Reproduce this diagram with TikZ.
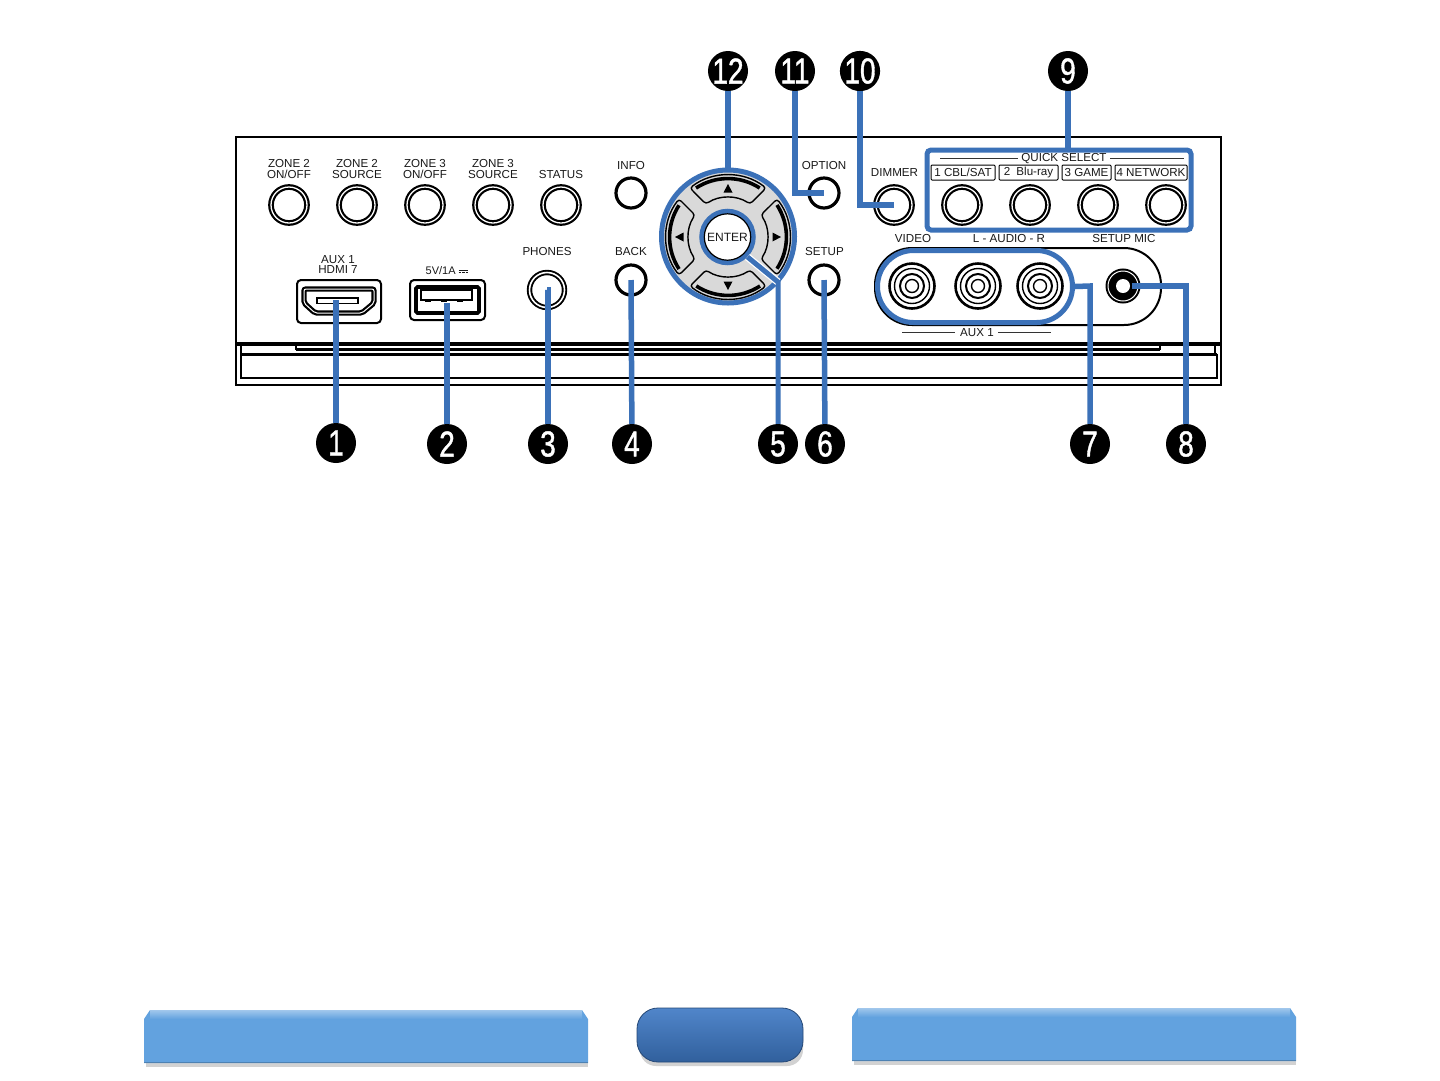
\documentclass[tikz,border=0pt]{standalone}
\usepackage{fontspec}
\setmainfont{Liberation Sans}
\newfontfamily\numfont[FakeBold=1.3]{Liberation Sans}
\usetikzlibrary{shadings}
\definecolor{callout}{HTML}{3B71B8}
\definecolor{padgray}{HTML}{D9D9D9}
\definecolor{barblue}{HTML}{62A2DF}
\definecolor{pillblue}{HTML}{3D78C4}
\newcommand{\dcsym}{\raisebox{3.6pt}{\rlap{\rule{9.6pt}{.7pt}}}\raisebox{1.6pt}{\rule{2.6pt}{.7pt}\hspace{.9pt}\rule{2.6pt}{.7pt}\hspace{.9pt}\rule{2.6pt}{.7pt}}}
\tikzset{
  x=1pt,y=-1pt,
  lab/.style={font=\fontsize{11.6}{10.5}\selectfont,align=center,inner sep=0pt,text=black!90},
  ringb/.style={circle,draw=black,line width=2.2pt,fill=white,minimum size=#1,inner sep=0pt,
     double=white,double distance=1.3pt},
  ringp/.style={circle,draw=black,line width=3.2pt,fill=white,minimum size=#1,inner sep=0pt},
  num/.style={circle,fill=black,text=white,minimum size=40pt,inner sep=0pt,font=\fontsize{36}{36}\numfont},
  conn/.style={draw=callout,line width=5.5pt},
  hl/.style={draw=callout,line width=5pt},
  qbox/.style={draw=black,line width=1pt,rounded corners=1pt,inner sep=0pt,font=\fontsize{11.6}{11.6}\selectfont,text=black!90},
  panel/.style={draw=black,line width=2.8pt},
  shelf/.style={draw=black,line width=3pt}
}
\newcommand{\numtxt}[1]{\raisebox{-1pt}{\scalebox{.78}[1]{#1}}}
\begin{document}
\begin{tikzpicture}
\useasboundingbox (0,0) rectangle (1440,1080);
\fill[white] (0,0) rectangle (1440,1080);
% panel
\draw[panel] (236,137) rectangle (1221,385);
\draw[shelf,line width=3.4pt] (236,344) -- (1221,344);
\draw[shelf] (296,349.5) -- (1160,349.5);
\draw[shelf,line width=1.6pt] (296,344) -- (296,349.5) (1160,344) -- (1160,349.5);
\draw[shelf,line width=2.6pt] (241,354.5) -- (1217,354.5);
\draw[shelf,line width=2.4pt] (241,344) -- (241,378) -- (1217,378) -- (1217,354);
\draw[shelf,line width=1.2pt] (1215,344) -- (1215,354);
% labels
\node[lab] at (289,169) {ZONE 2\\ON/OFF};
\node[lab] at (357,169) {ZONE 2\\SOURCE};
\node[lab] at (425,169) {ZONE 3\\ON/OFF};
\node[lab] at (493,169) {ZONE 3\\SOURCE};
\node[lab] at (561,174.5) {STATUS};
\node[lab] at (631,165) {INFO};
\node[lab] at (631,251.5) {BACK};
\node[lab] at (547,251.5) {PHONES};
\node[lab] at (338,264.5) {AUX 1\\HDMI 7};
\node[lab,font=\fontsize{11}{11}\selectfont] at (447,270.5) {5V/1A \dcsym};
\node[lab] at (824,165) {OPTION};
\node[lab] at (824.5,251.5) {SETUP};
\node[lab] at (894.5,173) {DIMMER};
\node[lab] at (913,238.5) {VIDEO};
\node[lab] at (1009,238.5) {L - AUDIO - R};
\node[lab] at (1124,238.5) {SETUP MIC};
\node[lab] at (1064,158.5) {QUICK SELECT};
\node[lab] at (977,332.5) {AUX 1};
\draw[line width=1pt,black!80] (940,158) -- (1018,158) (1110,158) -- (1184,158);
\draw[line width=1pt,black!80] (902,332) -- (955,332) (998,332) -- (1051,332);
% buttons
\foreach \nm/\xx in {za/289,zb/357,zc/425,zd/493,st/561,qa/962,qb/1030,qc/1098,qd/1166}
  \node[ringb=36pt] (\nm) at (\xx,205) {};
\node[ringb=36pt] (dim) at (894,205) {};
\node[ringp=30pt] (info) at (631,193) {};
\node[ringp=30pt] (back) at (631,280) {};
\node[ringp=30pt] (opt) at (824,193) {};
\node[ringp=30pt] (setup) at (824,280) {};
\node[circle,draw=black,line width=1.9pt,double=white,double distance=1.6pt,fill=white,minimum size=35pt,inner sep=0pt] (ph) at (547,290) {};
% quick select labels
\node[qbox,minimum width=64pt,minimum height=15pt] at (963,172.5) {1 CBL/SAT};
\node[qbox,minimum width=59pt,minimum height=15pt] at (1028.5,172.5) {2\hspace{3pt} Blu-ray};
\node[qbox,minimum width=49pt,minimum height=15pt] at (1086.5,172.5) {3 GAME};
\node[qbox,minimum width=72pt,minimum height=15pt] at (1151,172.5) {4 NETWORK};
% HDMI
\draw[line width=2pt,rounded corners=4pt,fill=white] (297,280) rectangle (381,323);
\coordinate (hdmi) at (336,300);
\draw[line width=2.2pt,double=white,double distance=1pt,rounded corners=2pt]
  (304,289) -- (374,289) -- (374,303) -- (362,313) -- (315,313) -- (304,303) -- cycle;
\draw[line width=1.6pt,fill=white] (317,298) rectangle (358,303.5);
% USB
\draw[line width=2pt,rounded corners=4pt,fill=white] (410,280) rectangle (485,320);
\draw[line width=3.6pt,rounded corners=1.5pt] (416,287) rectangle (479,313);
\draw[line width=1.3pt] (421,290) rectangle (472,300);
\draw[line width=2pt] (425,300.5) -- (431,300.5) (441,300.5) -- (447,300.5) (457,300.5) -- (463,300.5);
\coordinate (usb) at (447,303);
% jacks panel
\draw[line width=2pt,rounded corners=37pt] (875,248) rectangle (1161,325);
\foreach \nm/\xx in {ja/912,jb/978,jc/1040}{
  \node[circle,draw=black,line width=2.6pt,minimum size=45pt,inner sep=0pt] (\nm) at (\xx,286) {};
  \draw[line width=1.4pt] (\xx,286) circle (17.5pt) circle (6.5pt);
  \draw[line width=2pt] (\xx,286) circle (12pt);
}
\node[circle,draw=black,line width=2pt,double=white,double distance=1pt,fill=black,minimum size=30pt,inner sep=0pt] (mic) at (1123,286) {};
\fill[white] (mic.center) circle (7pt);
\coordinate (micp) at (1132,286);
% highlight shapes
\node[circle,hl,minimum size=133pt,fill=padgray,inner sep=0pt] (pad) at (728,236.5) {};
\foreach \a in {0,90,180,270}{
\begin{scope}[shift={(728,237)},rotate=\a]
 \draw[fill=padgray,line width=1.4pt,rounded corners=3pt]
   (-38,-49) arc[start angle=-127.8,end angle=-52.2,radius=62] -- (22,-33)
   arc[start angle=-56.3,end angle=-123.7,radius=39.7] -- cycle;
 \draw[line width=3.6pt] (-32,-49) arc[start angle=-123,end angle=-57,radius=58.5];
 \fill[black] (0,-53) -- (4.5,-44.5) -- (-4.5,-44.5) -- cycle;
\end{scope}}
\node[circle,hl,fill=white,minimum size=51.5pt,inner sep=0pt,font=\fontsize{12}{12}\selectfont,text=black!90] (enter) at (727.5,237) {ENTER};
\draw[black,line width=1.2pt] (enter.center) circle (23.2pt);
\node[draw=callout,line width=5pt,rounded corners=36pt,minimum width=195pt,minimum height=72pt,inner sep=0pt] (rca) at (975,286.5) {};
\node[draw=callout,line width=5pt,rounded corners=4pt,minimum width=264pt,minimum height=80pt,inner sep=0pt] (qs) at (1059,190) {};
% callout numbers
\node[num] (n1) at (336,443) {\numtxt{1}};
\node[num] (n2) at (447,444) {\numtxt{2}};
\node[num] (n3) at (548,444) {\numtxt{3}};
\node[num] (n4) at (632,444) {\numtxt{4}};
\node[num] (n5) at (778,444) {\numtxt{5}};
\node[num] (n6) at (825,444) {\numtxt{6}};
\node[num] (n7) at (1090,444) {\numtxt{7}};
\node[num] (n8) at (1186,444) {\numtxt{8}};
\node[num] (n9) at (1068,71) {\numtxt{9}};
\node[num] (n10) at (860,71) {\numtxt{10}};
\node[num] (n11) at (795,71) {\numtxt{11}};
\node[num] (n12) at (728,71) {\numtxt{12}};
% connectors
\draw[conn] (hdmi) -- (n1);
\draw[conn] (usb) -- (n2);
\draw[conn] (ph.center) -- (548,290) -- (n3);
\draw[conn] (back.center) -- (n4);
\coordinate (c5) at (778,282);
\draw[white,line width=7.5pt] (enter.-45) -- (c5);
\draw[conn,line width=5pt,line join=miter] (enter.-45) -- (c5) -- (n5);
\draw[conn] (setup.center) -- (n6);
\draw[conn] (rca.east) -- (1090,286) -- (n7);
\draw[conn] (micp) -- (1186,286) -- (n8);
\draw[conn] (n9) -- (1068,150);
\draw[conn] (n10) |- (dim.center);
\draw[conn] (n11) |- (opt.center);
\draw[conn] (n12) -- (pad.north);
% bottom bars
\fill[black!35,opacity=.5] (146,1060) rectangle (588,1067);
\fill[black!35,opacity=.5] (854,1058) rectangle (1296,1065);
\fill[black!35,opacity=.5,rounded corners=16pt] (640,1020) rectangle (803,1066);
\fill[barblue] (144,1019) -- (150,1010) -- (582,1010) -- (588,1019) -- (588,1063) -- (144,1063) -- cycle;
\shade[top color=barblue!60!white,bottom color=barblue] (150,1010) rectangle (582,1019);
\fill[barblue!80!black] (144,1061.5) rectangle (588,1063);
\fill[barblue] (852,1017) -- (858,1008) -- (1290,1008) -- (1296,1017) -- (1296,1061) -- (852,1061) -- cycle;
\shade[top color=barblue!60!white,bottom color=barblue] (858,1008) rectangle (1290,1017);
\fill[barblue!80!black] (852,1059.5) rectangle (1296,1061);
\shade[top color=pillblue!90!white,bottom color=pillblue!80!black,draw=pillblue!60!black,line width=.8pt,rounded corners=21pt] (637,1008) rectangle (803,1062);
\end{tikzpicture}
\end{document}
